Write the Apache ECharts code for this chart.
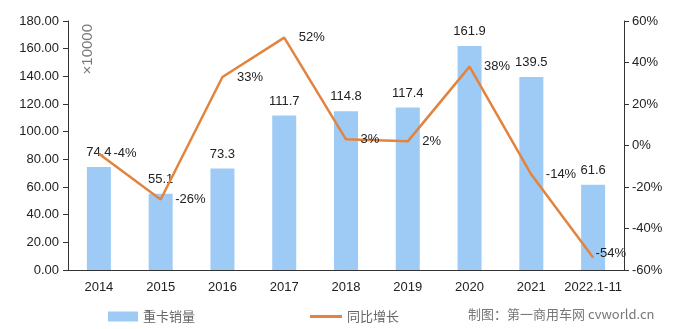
<!DOCTYPE html>
<html><head><meta charset="utf-8">
<script src="https://cdn.jsdelivr.net/npm/echarts@6/dist/echarts.min.js"></script>
<style>html,body{margin:0;padding:0;background:#fff}#c{width:688px;height:329px}</style>
</head><body><div id="c"></div>
<script>
const categories = ['2014','2015','2016','2017','2018','2019','2020','2021','2022.1-11'];
const sales = [74.4, 55.1, 73.3, 111.7, 114.8, 117.4, 161.9, 139.5, 61.6];
const growth = [-4, -26, 33, 52, 3, 2, 38, -14, -54];
const leftTicks = [0, 20, 40, 60, 80, 100, 120, 140, 160, 180];
const rightTicks = [-60, -40, -20, 0, 20, 40, 60];

const font = 'Liberation Sans, Arial, sans-serif';
const legendText = {fontFamily: 'Noto Sans CJK SC', fontSize: 13, color: '#666'};
const growthData = growth.map((v, i) => i === growth.length - 1
  ? {value: v, label: {distance: 2, offset: [0, -4]}}
  : v);
const chart = echarts.init(document.getElementById('c'));
chart.setOption({
  animation: false,
  grid: {left: 68, right: 64, top: 21, bottom: 59},
  legend: [{
    left: 103, top: 305, itemWidth: 30, itemHeight: 10, icon: 'rect',
    textStyle: legendText, data: ['重卡销量']
  }, {
    left: 305, top: 305, itemWidth: 32, itemHeight: 3, icon: 'rect',
    textStyle: legendText, data: ['同比增长']
  }],
  xAxis: {
    type: 'category', data: categories,
    axisLine: {lineStyle: {color: '#333', width: 1}},
    axisTick: {inside: true, length: 5, lineStyle: {color: '#333'}},
    axisLabel: {color: '#222', fontSize: 13, fontFamily: font, margin: 11, interval: 0}
  },
  yAxis: [{
    type: 'value', min: leftTicks[0], max: leftTicks[leftTicks.length-1], interval: 20,
    axisLine: {show: true, lineStyle: {color: '#333'}},
    axisTick: {show: true, length: 5, lineStyle: {color: '#333'}},
    splitLine: {show: false},
    axisLabel: {color: '#222', fontSize: 13, fontFamily: font, margin: 9, formatter: v => v.toFixed(2)}
  }, {
    type: 'value', min: rightTicks[0], max: rightTicks[rightTicks.length-1], interval: 20,
    axisLine: {show: true, lineStyle: {color: '#333'}},
    axisTick: {show: true, length: 5, lineStyle: {color: '#333'}},
    splitLine: {show: false},
    axisLabel: {color: '#222', fontSize: 13, fontFamily: font, margin: 8, formatter: v => v + '%'}
  }],
  series: [{
    name: '重卡销量', type: 'bar', data: sales, barWidth: 24,
    itemStyle: {color: '#9ECBF5'},
    label: {show: true, position: 'top', distance: 8, color: '#222', fontSize: 13, fontFamily: font,
      formatter: p => p.value.toFixed(1)}
  }, {
    name: '同比增长', type: 'line', yAxisIndex: 1, data: growthData,
    symbol: 'circle', symbolSize: 1, showSymbol: true,
    lineStyle: {color: '#E2843F', width: 2.5}, itemStyle: {color: '#E2843F'},
    label: {show: true, position: 'right', distance: 14, color: '#222', fontSize: 13, fontFamily: font,
      formatter: p => p.value + '%'}
  }],
  graphic: [{
    type: 'text', left: 80, top: 24, rotation: Math.PI / 2,
    style: {text: '×10000', fill: '#777', font: '15px Liberation Sans, Arial'}
  }, {
    type: 'text', left: 468, top: 308,
    style: {text: '制图：第一商用车网 cvworld.cn', fill: '#777', font: '13px Noto Sans CJK SC'}
  }]
});
</script></body></html>
